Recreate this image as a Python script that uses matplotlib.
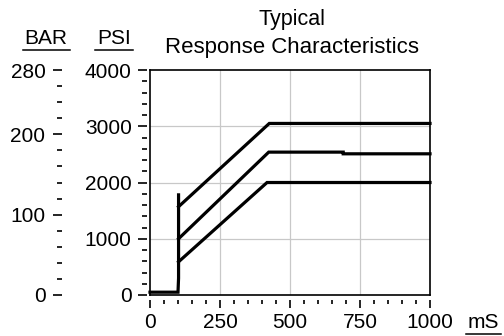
import numpy as np
import matplotlib
matplotlib.use('Agg')
import matplotlib.pyplot as plt
from matplotlib.lines import Line2D
from matplotlib.ticker import MultipleLocator

plt.rcParams['font.family'] = ['Liberation Sans', 'DejaVu Sans']
plt.rcParams['font.size'] = 15

# data (ms, psi)
step_t = [0, 100, 102, 102]
step_p = [50, 50, 300, 1780]
low_t = [102, 418, 1000]
low_p = [590, 2000, 2000]
mid_t = [102, 424, 690, 690, 1000]
mid_p = [1000, 2540, 2540, 2510, 2510]
top_t = [102, 426, 1000]
top_p = [1570, 3050, 3050]

W, H = 504, 336
fig = plt.figure(figsize=(W / 100, H / 100), dpi=100)
ax = fig.add_axes([150 / W, 1 - 295 / H, 280 / W, 225 / H])

ax.set_xlim(0, 1000)
ax.set_ylim(0, 4000)

for s in ax.spines.values():
    s.set_linewidth(1.2)
ax.set_xticks([250, 500, 750])
ax.set_yticks([1000, 2000, 3000])
ax.grid(True, color='#c8c8c8', lw=0.9)
ax.tick_params(left=False, bottom=False, labelleft=False, labelbottom=False)

for t, p in [(step_t, step_p), (low_t, low_p), (mid_t, mid_p), (top_t, top_p)]:
    ax.plot(t, p, color='black', lw=2.3, solid_joinstyle='miter', clip_on=False)

# x axis, slightly below the box
sx = ax.secondary_xaxis(-0.022)
sx.spines['bottom'].set_visible(False)
sx.set_xticks([0, 250, 500, 750, 1000])
sx.xaxis.set_minor_locator(MultipleLocator(50))
sx.tick_params(which='major', length=5.5, width=1.2, pad=4)
sx.tick_params(which='minor', length=3, width=1.2)

# psi axis
sp = ax.secondary_yaxis(-0.011)
sp.spines['left'].set_visible(False)
sp.set_yticks([0, 1000, 2000, 3000, 4000])
sp.yaxis.set_minor_locator(MultipleLocator(200))
sp.tick_params(which='major', length=6.5, width=1.2, pad=4.5)
sp.tick_params(which='minor', length=3.5, width=1.2)

# bar axis
sb = ax.secondary_yaxis(-0.314, functions=(lambda p: p * 0.07, lambda b: b / 0.07))
sb.spines['left'].set_visible(False)
sb.set_yticks([0, 100, 200, 280])
sb.yaxis.set_minor_locator(MultipleLocator(20))
sb.tick_params(which='major', length=6.5, width=1.2, pad=5.5)
sb.tick_params(which='minor', length=3.5, width=1.2)

fig.text(292 / W, 1 - 20 / H, 'Typical', ha='center', va='center', fontsize=15.5)
fig.text(292 / W, 1 - 48 / H, 'Response Characteristics', ha='center', va='center', fontsize=16)

labels = [
    fig.text(46 / W, 1 - 44.3 / H, 'BAR', ha='center', va='baseline'),
    fig.text(114 / W, 1 - 44.3 / H, 'PSI', ha='center', va='baseline'),
    fig.text(483.5 / W, 1 - 328 / H, 'mS', ha='center', va='baseline'),
]
r = fig.canvas.get_renderer()
for tx in labels:
    bb = tx.get_window_extent(r)
    y = (bb.y0 - 1.5) / H
    fig.add_artist(Line2D([(bb.x0 - 2) / W, (bb.x1 + 2) / W], [y, y], color='black', lw=1.1))

fig.savefig('out.png', dpi=100)
